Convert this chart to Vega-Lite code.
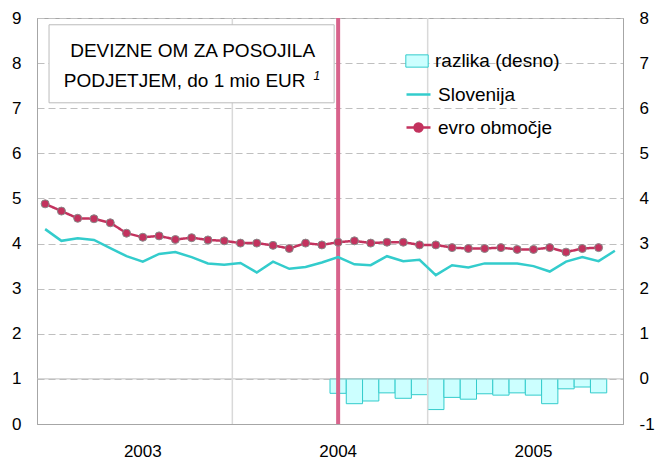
{
  "$schema": "https://vega.github.io/schema/vega-lite/v6.json",
  "width": 586,
  "height": 406,
  "autosize": {"type": "none"},
  "padding": {"left": 37, "top": 18, "right": 33, "bottom": 37},
  "background": "white",
  "config": {
    "view": {"stroke": "#A6A6A6"},
    "font": "Liberation Sans",
    "axis": {"labelFont": "Liberation Sans", "labelFontSize": 17, "labelColor": "black", "ticks": false, "domainColor": "#A6A6A6", "title": null},
    "legend": {"labelFont": "Liberation Sans", "labelFontSize": 19, "labelColor": "black", "padding": 0, "labelOffset": 6, "title": null}
  },
  "datasets": {
    "d": [
      {"m": "2003-01", "slo": 4.32, "evro": 4.88, "razlika": null},
      {"m": "2003-02", "slo": 4.06, "evro": 4.72, "razlika": null},
      {"m": "2003-03", "slo": 4.12, "evro": 4.56, "razlika": null},
      {"m": "2003-04", "slo": 4.08, "evro": 4.55, "razlika": null},
      {"m": "2003-05", "slo": 3.90, "evro": 4.46, "razlika": null},
      {"m": "2003-06", "slo": 3.72, "evro": 4.23, "razlika": null},
      {"m": "2003-07", "slo": 3.60, "evro": 4.14, "razlika": null},
      {"m": "2003-08", "slo": 3.77, "evro": 4.17, "razlika": null},
      {"m": "2003-09", "slo": 3.81, "evro": 4.09, "razlika": null},
      {"m": "2003-10", "slo": 3.70, "evro": 4.13, "razlika": null},
      {"m": "2003-11", "slo": 3.56, "evro": 4.08, "razlika": null},
      {"m": "2003-12", "slo": 3.53, "evro": 4.06, "razlika": null},
      {"m": "2004-01", "slo": 3.57, "evro": 4.01, "razlika": null},
      {"m": "2004-02", "slo": 3.36, "evro": 4.01, "razlika": null},
      {"m": "2004-03", "slo": 3.60, "evro": 3.96, "razlika": null},
      {"m": "2004-04", "slo": 3.44, "evro": 3.89, "razlika": null},
      {"m": "2004-05", "slo": 3.48, "evro": 4.01, "razlika": null},
      {"m": "2004-06", "slo": 3.58, "evro": 3.97, "razlika": null},
      {"m": "2004-07", "slo": 3.70, "evro": 4.03, "razlika": -0.32},
      {"m": "2004-08", "slo": 3.54, "evro": 4.06, "razlika": -0.55},
      {"m": "2004-09", "slo": 3.52, "evro": 4.01, "razlika": -0.49},
      {"m": "2004-10", "slo": 3.72, "evro": 4.03, "razlika": -0.31},
      {"m": "2004-11", "slo": 3.61, "evro": 4.03, "razlika": -0.43},
      {"m": "2004-12", "slo": 3.64, "evro": 3.97, "razlika": -0.35},
      {"m": "2005-01", "slo": 3.30, "evro": 3.97, "razlika": -0.68},
      {"m": "2005-02", "slo": 3.52, "evro": 3.91, "razlika": -0.41},
      {"m": "2005-03", "slo": 3.47, "evro": 3.89, "razlika": -0.45},
      {"m": "2005-04", "slo": 3.56, "evro": 3.89, "razlika": -0.33},
      {"m": "2005-05", "slo": 3.56, "evro": 3.91, "razlika": -0.36},
      {"m": "2005-06", "slo": 3.56, "evro": 3.87, "razlika": -0.31},
      {"m": "2005-07", "slo": 3.50, "evro": 3.87, "razlika": -0.36},
      {"m": "2005-08", "slo": 3.38, "evro": 3.91, "razlika": -0.55},
      {"m": "2005-09", "slo": 3.60, "evro": 3.81, "razlika": -0.22},
      {"m": "2005-10", "slo": 3.70, "evro": 3.89, "razlika": -0.18},
      {"m": "2005-11", "slo": 3.61, "evro": 3.91, "razlika": -0.31},
      {"m": "2005-12", "slo": 3.84, "evro": null, "razlika": null}
    ],
    "grid": [{"m": "2004-01"}, {"m": "2005-01"}],
    "one": [{}]
  },
  "layer": [
    {
      "layer": [
        {
          "data": {"name": "d"},
          "mark": {"type": "bar", "stroke": "#33CCCC", "strokeWidth": 1},
          "encoding": {
            "x": {
              "field": "m", "type": "ordinal",
              "scale": {"domain": ["2003-01","2003-02","2003-03","2003-04","2003-05","2003-06","2003-07","2003-08","2003-09","2003-10","2003-11","2003-12","2004-01","2004-02","2004-03","2004-04","2004-05","2004-06","2004-07","2004-08","2004-09","2004-10","2004-11","2004-12","2005-01","2005-02","2005-03","2005-04","2005-05","2005-06","2005-07","2005-08","2005-09","2005-10","2005-11","2005-12"], "paddingInner": 0, "paddingOuter": 0},
              "axis": {"values": ["2003-07", "2004-07", "2005-07"], "labelExpr": "slice(datum.value, 0, 4)", "labelAngle": 0, "grid": false, "labelPadding": 19, "labelFontSize": 17}
            },
            "y": {
              "field": "razlika", "type": "quantitative",
              "scale": {"domain": [-1, 8], "nice": false},
              "axis": {"orient": "right", "values": [-1,0,1,2,3,4,5,6,7,8], "labelExpr": "'' + datum.value", "grid": false, "labelPadding": 16}
            },
            "fill": {
              "datum": "razlika (desno)",
              "scale": {"range": ["#CCFFFF"]},
              "legend": {"orient": "none", "legendX": 368, "legendY": 31, "symbolType": "M-1,-0.55L1,-0.55L1,0.55L-1,0.55Z", "symbolSize": 500, "symbolStrokeColor": "#33CCCC", "symbolStrokeWidth": 1}
            }
          }
        },
        {
          "data": {"name": "one"},
          "mark": {"type": "rule", "color": "#BFBFBF", "strokeWidth": 1},
          "encoding": {"y": {"datum": 0}}
        }
      ]
    },
    {
      "layer": [
        {
          "data": {"name": "grid"},
          "mark": {"type": "rule", "color": "#D9D9D9", "strokeWidth": 1.5},
          "encoding": {"x": {"field": "m", "type": "ordinal", "bandPosition": 0}}
        },
        {
          "data": {"name": "one"},
          "mark": {"type": "rule", "color": "#D8638C", "strokeWidth": 4},
          "encoding": {"x": {"datum": "2004-07", "type": "ordinal"}}
        },
        {
          "data": {"name": "d"},
          "mark": {"type": "line", "strokeWidth": 2.5},
          "encoding": {
            "x": {"field": "m", "type": "ordinal"},
            "y": {
              "field": "slo", "type": "quantitative",
              "scale": {"domain": [0, 9], "nice": false},
              "axis": {"orient": "left", "values": [0,1,2,3,4,5,6,7,8,9], "grid": true, "gridColor": "#BFBFBF", "gridDash": [7, 4], "gridWidth": 1, "labelPadding": 16}
            },
            "stroke": {
              "datum": "Slovenija",
              "scale": {"range": ["#33CCCC"]},
              "legend": {"orient": "none", "legendX": 368, "legendY": 63, "symbolType": "stroke", "symbolSize": 576, "symbolStrokeWidth": 2.5}
            }
          }
        },
        {
          "data": {"name": "d"},
          "mark": {"type": "line", "color": "#C3325E", "strokeWidth": 2.5},
          "encoding": {
            "x": {"field": "m", "type": "ordinal"},
            "y": {"field": "evro", "type": "quantitative"},
            "strokeDash": {
              "datum": "evro območje",
              "scale": {"range": [[1, 0]]},
              "legend": {"orient": "none", "legendX": 368, "legendY": 96, "symbolType": "M-1,0L1,0M-0.33,0A0.33,0.33,0,1,1,0.33,0A0.33,0.33,0,1,1,-0.33,0Z", "symbolSize": 576, "symbolFillColor": "#C3325E", "symbolStrokeColor": "#C3325E", "symbolStrokeWidth": 2.5}
            }
          }
        },
        {
          "data": {"name": "d"},
          "mark": {"type": "point", "filled": true, "fill": "#C3325E", "stroke": "#888888", "strokeWidth": 1, "size": 64, "opacity": 1},
          "encoding": {
            "x": {"field": "m", "type": "ordinal"},
            "y": {"field": "evro", "type": "quantitative"}
          }
        },
        {
          "data": {"name": "one"},
          "mark": {"type": "rect", "fill": "white", "stroke": "#BBBBBB", "strokeWidth": 1, "x2Offset": -4},
          "encoding": {
            "x": {"datum": "2003-01", "type": "ordinal", "bandPosition": 0.74},
            "x2": {"datum": "2004-07"},
            "y": {"datum": 8.85},
            "y2": {"datum": 7.12}
          }
        },
        {
          "data": {"name": "one"},
          "mark": {"type": "text", "text": "DEVIZNE OM ZA POSOJILA", "font": "Liberation Sans", "fontSize": 19, "align": "center", "baseline": "alphabetic", "color": "black", "dx": 1},
          "encoding": {"x": {"datum": "2003-10", "type": "ordinal"}, "y": {"datum": 8.13}}
        },
        {
          "data": {"name": "one"},
          "mark": {"type": "text", "text": "PODJETJEM, do 1 mio EUR", "font": "Liberation Sans", "fontSize": 19, "align": "center", "baseline": "alphabetic", "color": "black", "dx": -7},
          "encoding": {"x": {"datum": "2003-10", "type": "ordinal"}, "y": {"datum": 7.48}}
        },
        {
          "data": {"name": "one"},
          "mark": {"type": "text", "text": "1", "font": "Liberation Sans", "fontSize": 12, "fontStyle": "italic", "align": "center", "baseline": "alphabetic", "color": "black", "dx": -5},
          "encoding": {"x": {"datum": "2004-06", "type": "ordinal"}, "y": {"datum": 7.63}}
        }
      ]
    }
  ],
  "resolve": {"scale": {"y": "independent"}, "axis": {"y": "independent"}}
}
